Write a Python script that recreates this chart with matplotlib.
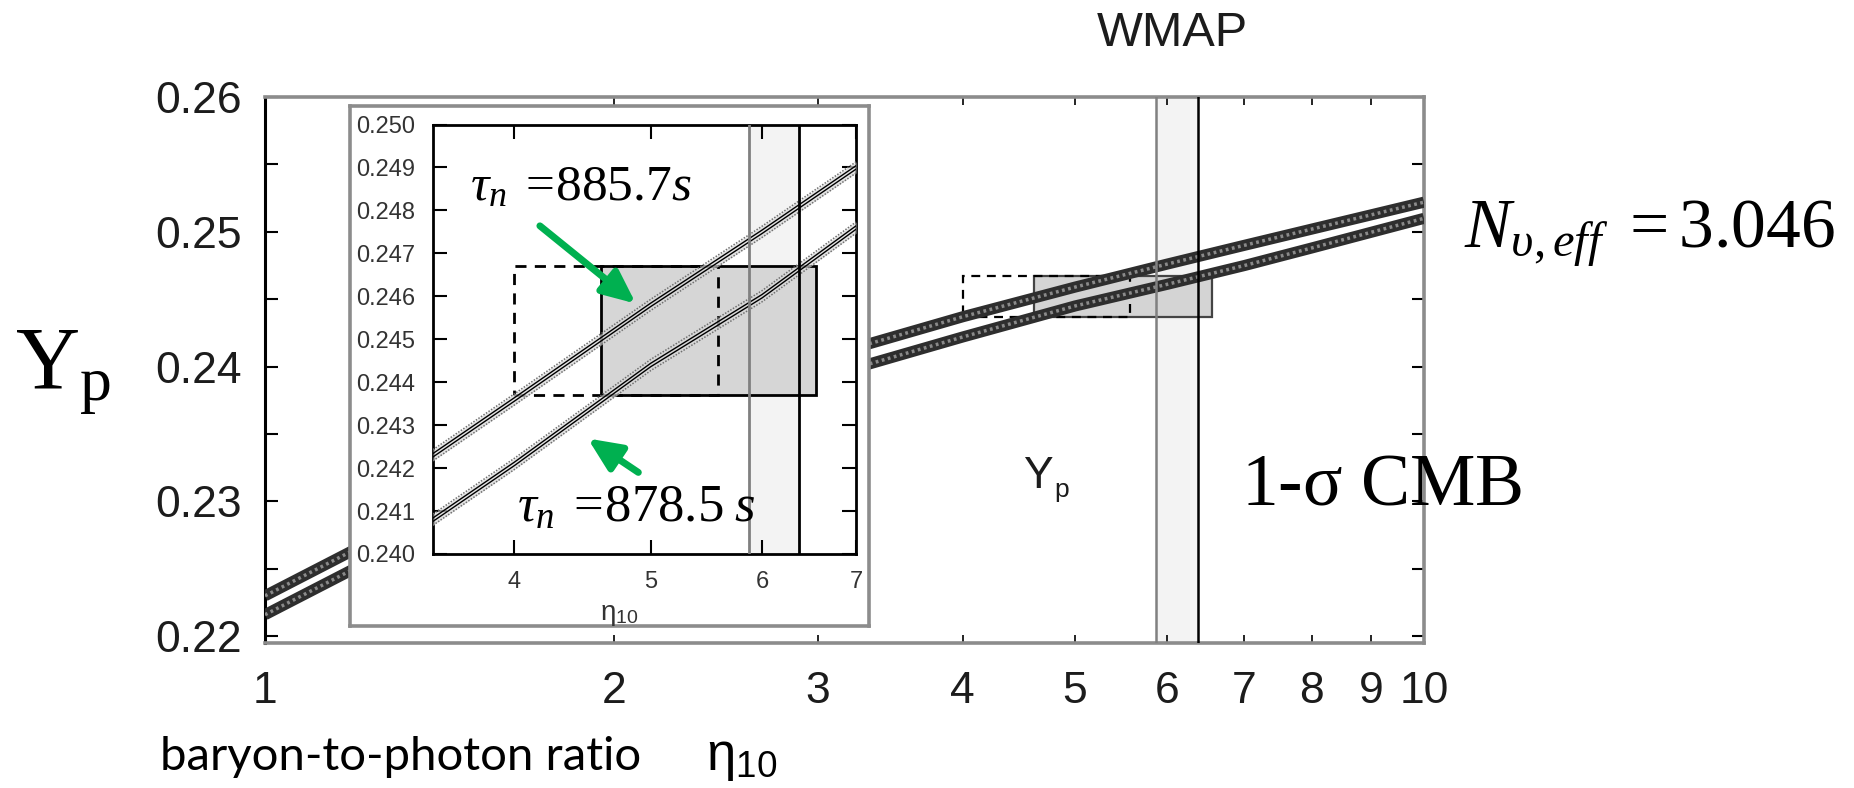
import numpy as np
import matplotlib
matplotlib.use("Agg")
import matplotlib.pyplot as plt
from matplotlib.patches import Rectangle
from matplotlib.ticker import NullLocator

plt.rcParams['font.family'] = ['Liberation Sans', 'DejaVu Sans']
plt.rcParams['mathtext.fontset'] = 'custom'
plt.rcParams['mathtext.rm'] = 'Liberation Serif'
plt.rcParams['mathtext.it'] = 'Liberation Serif:italic'
plt.rcParams['mathtext.bf'] = 'Liberation Serif:bold'
plt.rcParams['mathtext.sf'] = 'Liberation Sans'

# ---------------- data ----------------
main_eta = [1, 1.5, 2, 3, 4, 5, 6, 7, 8, 10]
main_yp_tau8857 = [0.2230, 0.2308, 0.2354, 0.2406, 0.2437, 0.2459, 0.2476, 0.2490, 0.2502, 0.2522]
main_yp_tau8785 = [0.2216, 0.2294, 0.2339, 0.2391, 0.2422, 0.2445, 0.2461, 0.2475, 0.2488, 0.2510]

inset_eta = [3.5, 4, 5, 6, 7]
inset_yp_tau8857 = [0.2423, 0.2436, 0.2458, 0.2475, 0.2490]
inset_yp_tau8785 = [0.2408, 0.2421, 0.2444, 0.2460, 0.2476]

wmap_eta = [5.87, 6.38]          # 1-sigma CMB band
yp_obs = [0.2437, 0.2467]        # observed Yp range
yp_box_eta = [4.61, 6.56]        # shaded (solid) box
yp_dash_eta = [4.0, 5.58]        # dashed box

main_xticks = [1, 2, 3, 4, 5, 6, 7, 8, 9, 10]
main_xticklabels = ['1', '2', '3', '4', '5', '6', '7', '8', '9', '10']
main_yticks = [0.22, 0.23, 0.24, 0.25, 0.26]
main_yticklabels = ['0.22', '0.23', '0.24', '0.25', '0.26']
main_yminor = [0.225, 0.235, 0.245, 0.255]

inset_xticks = [4, 5, 6, 7]
inset_xticklabels = ['4', '5', '6', '7']
inset_yticks = [0.240, 0.241, 0.242, 0.243, 0.244, 0.245, 0.246, 0.247, 0.248, 0.249, 0.250]
inset_yticklabels = ['0.240', '0.241', '0.242', '0.243', '0.244', '0.245',
                     '0.246', '0.247', '0.248', '0.249', '0.250']

W, H = 1854, 788
def fx(x):
    return x / W
def fy(y):
    return 1 - y / H

GREEN = '#00b050'
GREY = '#8c8c8c'
TXT = '#1c1c1c'

fig = plt.figure(figsize=(W / 100, H / 100), dpi=100)

# ---------------- main axes ----------------
ax = fig.add_axes([fx(265), fy(643), (1424 - 265) / W, (643 - 97) / H])
ax.set_xscale('log')
ax.set_xlim(1, 10)
ax.set_ylim(0.2195, 0.26)

ax.axvspan(wmap_eta[0], wmap_eta[1], color='#f3f3f3', zorder=1, lw=0)
ax.axvline(wmap_eta[0], color='#808080', lw=1.8, zorder=6)
ax.axvline(wmap_eta[1], color='black', lw=1.8, zorder=6)

ax.add_patch(Rectangle((yp_box_eta[0], yp_obs[0]), yp_box_eta[1] - yp_box_eta[0],
                       yp_obs[1] - yp_obs[0], facecolor='#d4d4d4', edgecolor='#444444',
                       lw=1.6, zorder=2))
ax.add_patch(Rectangle((yp_dash_eta[0], yp_obs[0]), yp_dash_eta[1] - yp_dash_eta[0],
                       yp_obs[1] - yp_obs[0], facecolor='none', edgecolor='black',
                       lw=1.6, ls=(0, (4, 3)), zorder=3))

def rope(a, x, y):
    a.plot(x, y, color='#2e2e2e', lw=8, zorder=4, solid_capstyle='butt')
    a.plot(x, y, color='#8a8a8a', lw=2.5, ls=(0, (0.8, 1.0)), zorder=5)

rope(ax, main_eta, main_yp_tau8857)
rope(ax, main_eta, main_yp_tau8785)

ax.set_xticks(main_xticks)
ax.set_xticklabels(main_xticklabels)
ax.xaxis.set_minor_locator(NullLocator())
ax.set_yticks(main_yticks)
ax.set_yticklabels(main_yticklabels)
ax.set_yticks(main_yminor, minor=True)
ax.tick_params(axis='both', which='both', direction='in', top=True, right=True,
               length=9, width=1.5, colors='black')
ax.tick_params(axis='x', which='both', length=6, width=1.2)
ax.tick_params(axis='x', labelsize=32, pad=20, labelcolor=TXT)
ax.tick_params(axis='y', labelsize=32, pad=17, labelcolor=TXT)
for s in ['top', 'bottom', 'right']:
    ax.spines[s].set_color(GREY)
    ax.spines[s].set_linewidth(2.6)
ax.spines['left'].set_color('black')
ax.spines['left'].set_linewidth(2.2)

ax.text(4.51, 0.2310, 'Y', fontsize=32, color=TXT, ha='left', va='baseline',
        family=['Liberation Sans'], zorder=7)
ax.text(4.80, 0.2303, 'p', fontsize=19, color=TXT, ha='left', va='baseline',
        family=['Liberation Sans'], zorder=7)

# ---------------- inset frame ----------------
axf = fig.add_axes([fx(350), fy(626), (869 - 350) / W, (626 - 106) / H])
axf.set_zorder(2)
axf.set_facecolor('white')
axf.set_xticks([])
axf.set_yticks([])
for s in axf.spines.values():
    s.set_color(GREY)
    s.set_linewidth(2.6)

# ---------------- inset axes ----------------
axi = fig.add_axes([fx(433), fy(554), (856 - 433) / W, (554 - 124.5) / H])
axi.set_zorder(3)
axi.set_xscale('log')
axi.set_xlim(3.5, 7)
axi.set_ylim(0.240, 0.250)

axi.axvspan(wmap_eta[0], wmap_eta[1], color='#f3f3f3', zorder=1, lw=0)
axi.axvline(wmap_eta[0], color='#808080', lw=2.0, zorder=6)
axi.axvline(wmap_eta[1], color='black', lw=2.0, zorder=6)

axi.add_patch(Rectangle((yp_box_eta[0], yp_obs[0]), yp_box_eta[1] - yp_box_eta[0],
                        yp_obs[1] - yp_obs[0], facecolor='#d6d6d6', edgecolor='black',
                        lw=2.0, zorder=2))
axi.add_patch(Rectangle((yp_dash_eta[0], yp_obs[0]), yp_dash_eta[1] - yp_dash_eta[0],
                        yp_obs[1] - yp_obs[0], facecolor='none', edgecolor='black',
                        lw=2.0, ls=(0, (4, 3)), zorder=3))

HALF = 0.00013
def band(a, x, y):
    y = np.asarray(y)
    a.fill_between(x, y - HALF, y + HALF, color='#d8d8d8', alpha=0.7, lw=0, zorder=4)
    a.plot(x, y + HALF, color='#707070', lw=1.1, ls=(0, (1, 1)), zorder=5)
    a.plot(x, y - HALF, color='#707070', lw=1.1, ls=(0, (1, 1)), zorder=5)
    a.plot(x, y + 0.00004, color='black', lw=1.0, zorder=5)
    a.plot(x, y - 0.00004, color='black', lw=1.0, zorder=5)

band(axi, inset_eta, inset_yp_tau8857)
band(axi, inset_eta, inset_yp_tau8785)

axi.set_xticks(inset_xticks)
axi.set_xticklabels(inset_xticklabels)
axi.xaxis.set_minor_locator(NullLocator())
axi.set_yticks(inset_yticks)
axi.set_yticklabels(inset_yticklabels)
axi.tick_params(axis='both', which='both', direction='in', top=True, right=True,
                length=10, width=1.5, colors='black', labelsize=17, labelcolor='#333333')
axi.tick_params(axis='x', pad=12)
axi.tick_params(axis='y', pad=13)
for s in axi.spines.values():
    s.set_color('black')
    s.set_linewidth(2.0)
axi.set_xlabel(r'$\mathsf{\eta}_{\mathsf{10}}$', fontsize=20, color='#333333')
axi.xaxis.set_label_coords(0.44, -0.112)

arrow_style = dict(arrowstyle='-|>,head_length=1.0,head_width=0.45',
                   color=GREEN, lw=5, mutation_scale=20, shrinkA=0, shrinkB=0)
axi.annotate('', xy=(4.88, 0.24583), xytext=(4.17, 0.24764),
             arrowprops=arrow_style, zorder=8)
axi.annotate('', xy=(4.51, 0.24269), xytext=(4.90, 0.24190),
             arrowprops=arrow_style, zorder=8)

# ---------------- texts ----------------
fig.text(fx(470), fy(200), r'$\tau_n\;=\!885.7s$', fontsize=37, color='black',
         ha='left', va='baseline', zorder=10)
fig.text(fx(517), fy(522), r'$\tau_n\;=\!878.5\;s$', fontsize=38, color='black',
         ha='left', va='baseline', zorder=10)

fig.text(fx(1172), fy(33), 'WMAP', fontsize=35, color=TXT, ha='center', va='center')

fig.text(fx(1464), fy(247), r'$N_{\upsilon,eff}\ =3.046$', fontsize=50, color='black',
         ha='left', va='baseline')

fig.text(fx(1241), fy(505), r'1-$\mathrm{\sigma}$ CMB', fontsize=53, color='black',
         ha='left', va='baseline', family=['Liberation Serif'])

fig.text(fx(16), fy(388), 'Y', fontsize=64, color='black', ha='left', va='baseline',
         family=['Liberation Serif'])
fig.text(fx(80), fy(400), 'p', fontsize=46, color='black', ha='left', va='baseline',
         family=['Liberation Serif'])

fig.text(fx(160), fy(770), 'baryon-to-photon ratio', fontsize=34, color='black',
         ha='left', va='baseline', family=['Lato', 'DejaVu Sans'])
fig.text(fx(706), fy(770), r'$\mathsf{\eta}_{\mathsf{10}}$', fontsize=38, color='black',
         ha='left', va='baseline')

fig.savefig('out.png', dpi=100)
